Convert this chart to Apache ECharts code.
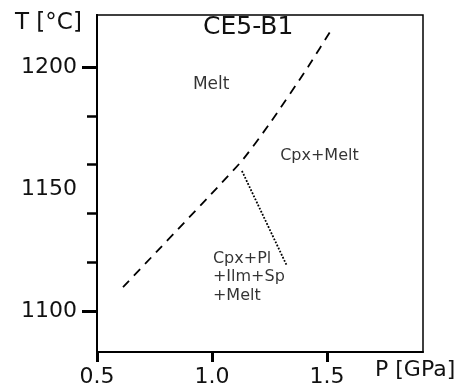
<!DOCTYPE html>
<html>
<head>
<meta charset="utf-8">
<script src="https://cdn.jsdelivr.net/npm/echarts@6/dist/echarts.min.js"></script>
<style>
  html, body { margin: 0; padding: 0; background: #fff; }
  #chart { width: 461px; height: 385px; }
</style>
</head>
<body>
<div id="chart"></div>
<script>
// phase boundary, Cpx-in (dashed)
var cpxInP = [0.613, 1.122, 1.252, 1.417, 1.526];
var cpxInT = [1109.8, 1160.7, 1177.0, 1200.0, 1216.4];
// Pl/Ilm/Sp-in (dotted)
var plInP = [1.130, 1.326];
var plInT = [1157.4, 1118.4];
// field labels
var fieldNames = ['Melt', 'Cpx+Melt', 'Cpx+Pl\n+Ilm+Sp\n+Melt'];
var fieldP = [0.917, 1.296, 1.004];
var fieldT = [1192.8, 1163.5, 1113.9];
var fieldSize = [17, 16, 16];
// ticks
var xTicks = [0.5, 1.0, 1.5];
var yMajorTicks = [1100, 1200];
var yMinorTicks = [1120, 1140, 1160, 1180];
var yLabels = [1100, 1150, 1200];

var font = 'DejaVu Sans';
var mycharts = echarts.init(document.getElementById('chart'));

function pairs(a, b) {
  return a.map(function (v, i) { return [v, b[i]]; });
}

var yBase = {
  type: 'value',
  min: 1083.2,
  max: 1221.3,
  position: 'left',
  splitLine: { show: false },
  axisLine: { show: true, lineStyle: { color: '#000', width: 2 } }
};

var options = {
  animation: false,
  grid: {
    left: 97, right: 38, top: 15, bottom: 33,
    outerBoundsMode: 'none',
    containLabel: false,
    show: true, borderColor: '#000', borderWidth: 1.5
  },
  xAxis: {
    type: 'value',
    min: 0.5,
    max: 1.917,
    splitLine: { show: false },
    axisLine: { lineStyle: { color: '#000', width: 2 } },
    axisTick: {
      length: 10, lineStyle: { color: '#000', width: 3 },
      customValues: xTicks
    },
    axisLabel: {
      customValues: xTicks, margin: 14,
      color: '#111', fontSize: 22, fontFamily: font,
      formatter: function (v) { return v.toFixed(1); }
    }
  },
  yAxis: [
    Object.assign({}, yBase, {
      axisTick: {
        length: 10, lineStyle: { color: '#000', width: 2.5 },
        customValues: yMinorTicks
      },
      axisLabel: {
        customValues: yLabels, margin: 20,
        color: '#111', fontSize: 22, fontFamily: font,
        formatter: function (v) { return String(v); }
      }
    }),
    Object.assign({}, yBase, {
      axisTick: {
        length: 15, lineStyle: { color: '#000', width: 3 },
        customValues: yMajorTicks
      },
      axisLabel: { show: false }
    })
  ],
  graphic: [
    { type: 'text', left: 15, top: 12,
      style: { text: 'T [°C]', font: '23px "DejaVu Sans"', fill: '#111' } },
    { type: 'text', left: 375, top: 359,
      style: { text: 'P [GPa]', font: '22px "DejaVu Sans"', fill: '#111' } },
    { type: 'text', left: 203, top: 15,
      style: { text: 'CE5-B1', font: '25px "DejaVu Sans"', fill: '#111' } }
  ],
  series: [
    {
      name: 'Cpx-in',
      type: 'line',
      data: pairs(cpxInP, cpxInT),
      symbol: 'none',
      smooth: 0.2,
      lineStyle: { color: '#000', width: 1.8, type: [9, 7] }
    },
    {
      name: 'Pl-in',
      type: 'line',
      data: pairs(plInP, plInT),
      symbol: 'none',
      lineStyle: { color: '#000', width: 1.8, type: [1.8, 1.6] }
    },
    {
      name: 'fields',
      type: 'scatter',
      symbolSize: 0,
      data: fieldNames.map(function (n, i) {
        return {
          name: n,
          value: [fieldP[i], fieldT[i]],
          label: { fontSize: fieldSize[i] }
        };
      }),
      label: {
        show: true,
        position: 'inside',
        align: 'left',
        verticalAlign: 'middle',
        formatter: '{b}',
        color: '#000',
        lineHeight: 18.5,
        fontFamily: font
      }
    }
  ]
};
mycharts.setOption(options);
</script>
</body>
</html>
